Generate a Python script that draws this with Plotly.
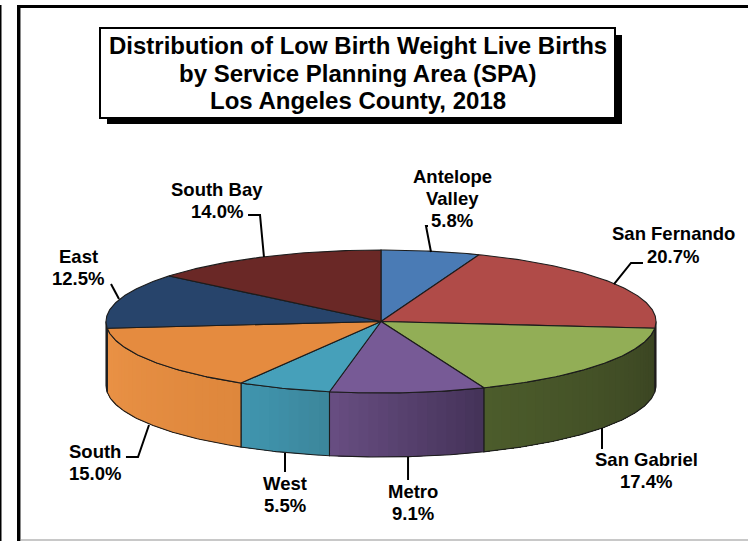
import math
import plotly.graph_objects as go

# ---- data ----
areas = ["Antelope Valley", "San Fernando", "San Gabriel", "Metro", "West", "South", "East", "South Bay"]
shares = [5.8, 20.7, 17.4, 9.1, 5.5, 15.0, 12.5, 14.0]
top_colors = ["#4a7bb5", "#b04b48", "#92ae56", "#775a96", "#46a0ba", "#e58b3f", "#27446b", "#6a2826"]
# wall shade at the clockwise start (right end) and clockwise end (left end) of each slice
side_start = [(60, 95, 140), (70, 32, 30), (58, 68, 34), (68, 50, 88), (60, 134, 155), (222, 135, 60), (30, 50, 80), (70, 26, 25)]
side_end = [(60, 95, 140), (70, 32, 30), (76, 92, 43), (104, 78, 130), (64, 150, 176), (234, 146, 70), (30, 50, 80), (70, 26, 25)]

label_lines = [["Antelope", "Valley", "5.8%"], ["San Fernando", "20.7%"], ["San Gabriel", "17.4%"], ["Metro", "9.1%"],
               ["West", "5.5%"], ["South", "15.0%"], ["East", "12.5%"], ["South Bay", "14.0%"]]
label_x = [452, 673, 646, 413, 285, 95, 78, 217]
label_y = [176, 234, 459, 491, 483, 451, 256, 189]
leaders = [
    [(428, 226), (426, 226), (431, 252)],
    [(614, 284), (631, 263), (643, 263)],
    [(602, 428), (602, 449)],
    [(408, 457), (408, 480)],
    [(285, 453), (285, 472)],
    [(149, 425), (138, 457), (126, 457)],
    [(119, 299), (111, 284)],
    [(248, 215), (260, 215), (264, 257)],
]
title_lines = ["Distribution of Low Birth Weight Live Births", "by Service Planning Area (SPA)", "Los Angeles County, 2018"]

W, H = 748, 541
CX, CY, RX, RY = 381, 321.5, 275, 71.5
DEPTH = 64 / RY  # thickness in y-axis units
FONT = "Liberation Sans"
INK = "#1c1c1c"


def pt(deg, drop=0.0):
    r = math.radians(deg)
    return math.sin(r), math.cos(r) - drop


def arc(a, b, drop=0.0):
    n = max(2, int(abs(b - a) * 1.5))
    return [pt(a + (b - a) * i / n, drop) for i in range(n + 1)]


def rgb(c):
    return "rgb(%d,%d,%d)" % tuple(round(v) for v in c)


fig = go.Figure()
edges = [0.0]
for s in shares:
    edges.append(edges[-1] + s * 3.6)

# side wall: shaded strips painted over one another, clipped to the front half of the disc
for i in range(len(shares)):
    a, b = max(edges[i], 90), min(edges[i + 1], 270)
    if b <= a:
        continue
    n = max(1, int((b - a) / 2.0))
    for k in range(n):
        t = (k + 0.5) / n
        c = [side_start[i][j] + (side_end[i][j] - side_start[i][j]) * t for j in range(3)]
        s0 = a + (b - a) * k / n
        p = arc(s0, b) + arc(b, s0, DEPTH)
        fig.add_trace(go.Scatter(x=[q[0] for q in p] + [p[0][0]], y=[q[1] for q in p] + [p[0][1]],
                                 mode="lines", fill="toself", fillcolor=rgb(c),
                                 line=dict(width=0), hoverinfo="skip", showlegend=False))
    # wall outline
    p = arc(a, b) + arc(b, a, DEPTH)
    p.append(p[0])
    fig.add_trace(go.Scatter(x=[q[0] for q in p], y=[q[1] for q in p], mode="lines",
                             line=dict(color=INK, width=1.1), hoverinfo="skip", showlegend=False))

# top face
for i, name in enumerate(areas):
    p = [(0.0, 0.0)] + arc(edges[i], edges[i + 1]) + [(0.0, 0.0)]
    fig.add_trace(go.Scatter(x=[q[0] for q in p], y=[q[1] for q in p], mode="lines", fill="toself",
                             fillcolor=top_colors[i], line=dict(color=INK, width=1.1), name=name,
                             hoverinfo="skip", showlegend=False))

shapes = []


def rect(x0, y0, x1, y1, fill, line=None):
    shapes.append(dict(type="rect", xref="paper", yref="paper", x0=x0 / W, x1=x1 / W, y0=1 - y0 / H, y1=1 - y1 / H,
                       fillcolor=fill, line=dict(color=line or fill, width=2 if line else 0), layer="above"))


rect(0, 5, 1.5, 541, "#000000")
rect(17, 5, 20, 541, "#000000")
rect(20, 8, 21, 541, "#8a8a8a")
rect(17, 5, 748, 8, "#000000")
rect(21, 539, 748, 541, "#c8c8c8")
rect(107, 35, 622, 124, "#000000")
rect(100, 28, 615, 118, "#ffffff", "#000000")

for path in leaders:
    d = "M" + " L".join("%.4f,%.4f" % (x / W, 1 - y / H) for x, y in path)
    shapes.append(dict(type="path", xref="paper", yref="paper", path=d, line=dict(color="#000000", width=2), layer="above"))

ann = []


def text(s, x, y, size):
    ann.append(dict(text=s, x=x / W, y=1 - y / H, xref="paper", yref="paper", xanchor="center", yanchor="middle",
                    showarrow=False, font=dict(family=FONT, size=size, color="#000000")))


for j, line in enumerate(title_lines):
    text("<b>%s</b>" % line, 357.5, 46 + j * 27.2, 24)
for lines, x, y in zip(label_lines, label_x, label_y):
    for j, line in enumerate(lines):
        text("<b>%s</b>" % line, x, y + j * 22.3, 18.5)

fig.update_layout(
    width=W, height=H, margin=dict(l=0, r=0, t=0, b=0), autosize=False,
    paper_bgcolor="white", plot_bgcolor="white", showlegend=False, shapes=shapes, annotations=ann,
    xaxis=dict(range=[-CX / RX, (W - CX) / RX], visible=False, fixedrange=True),
    yaxis=dict(range=[(CY - H) / RY, CY / RY], visible=False, fixedrange=True),
)
fig.write_html("out.html", config={"displayModeBar": False},
               post_script="document.body.style.margin='0';document.documentElement.style.overflow='hidden';")
